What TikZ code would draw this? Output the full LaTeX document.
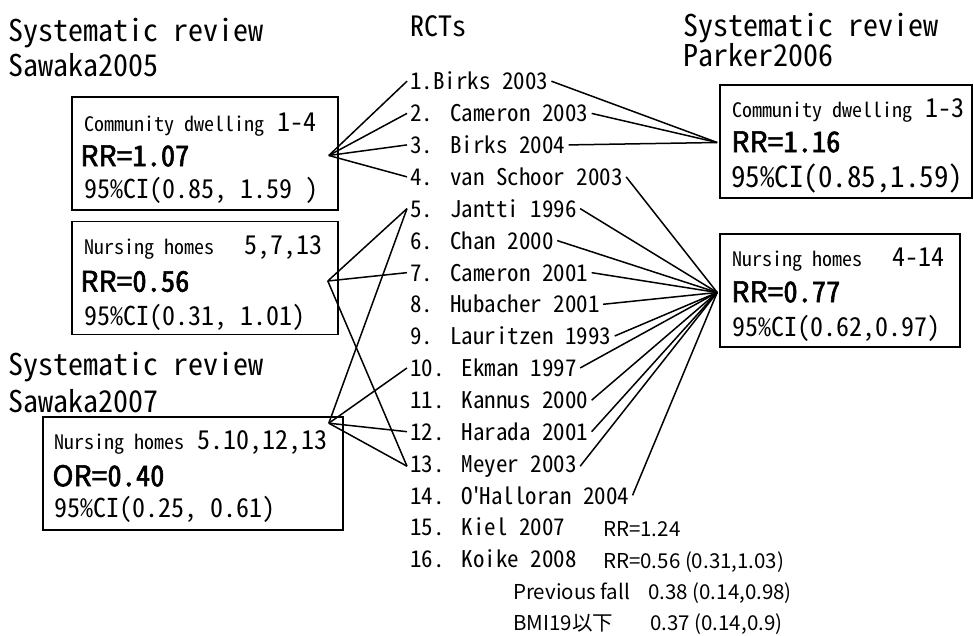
\documentclass[tikz,border=0pt]{standalone}
\usepackage{fontspec}
\newfontfamily\gothic[RawFeature=+hwid]{Noto Sans CJK JP}
\newfontfamily\rrfont[RawFeature=+hwid, FakeBold=2]{Noto Sans CJK JP}
\newfontfamily\pgothic{Noto Sans CJK JP}
\newfontfamily\prrfont[FakeBold=2]{Noto Sans CJK JP}
\newcommand\rgap{\hspace{0.75em}}
\newcommand\sm{\fontsize{20}{20}\selectfont}

\begin{document}
\begin{tikzpicture}[x=1pt,y=-1pt,
  box/.style={draw, line width=1.6pt, minimum width=#1, minimum height=113pt, inner sep=0pt},
  title/.style={anchor=base west, inner sep=0pt, font=\gothic\fontsize{30}{30}\selectfont},
  rct/.style={anchor=base west, inner sep=3pt, font=\gothic\fontsize{23}{23}\selectfont},
  head/.style={anchor=base west, inner sep=0pt, font=\gothic\fontsize{26}{26}\selectfont},
  rr/.style={anchor=base west, inner sep=0pt, font=\rrfont\fontsize{28.5}{28.5}\selectfont},
  ci/.style={anchor=base west, inner sep=0pt, font=\gothic\fontsize{26}{26}\selectfont},
  note/.style={anchor=base west, inner sep=0pt, font=\pgothic\fontsize{20.5}{20.5}\selectfont},
  link/.style={line width=1.5pt}]
  \useasboundingbox (0,0) rectangle (974,636);

  % Titles
  \node[title] (sw05t1) at (8,42) {Systematic review};
  \node[title] (sw05t2) at (8,77) {Sawaka2005};
  \node[title] (pk06t1) at (683,37) {Systematic review};
  \node[title] (pk06t2) at (683,67) {Parker2006};
  \node[title] (sw07t1) at (8,375) {Systematic review};
  \node[title] (sw07t2) at (8,412) {Sawaka2007};
  \node[title, font=\gothic\fontsize{28}{28}\selectfont] (rcts) at (410,37) {RCTs};

  % Boxes
  \node[box=266pt] (sw05a) at (205,153.5) {};
  \node[box=266pt] (sw05b) at (205,278) {};
  \node[box=300pt] (sw07) at (193,473.5) {};
  \node[box=252pt] (pk06a) at (846,141.5) {};
  \node[box=240pt] (pk06b) at (840,290.5) {};

  % Box texts
  \node[head] (sw05a1) at ([xshift=13pt,yshift=-35pt]sw05a.north west) {\makebox[232pt][l]{{\sm Community dwelling} 1-4}};
  \node[rr] (sw05a2) at ([xshift=9pt,yshift=-70pt]sw05a.north west) {{\prrfont RR=}1.07};
  \node[ci] (sw05a3) at ([xshift=13pt,yshift=-102pt]sw05a.north west) {95\%CI(0.85, 1.59 )};
  \node[head] (sw05b1) at ([xshift=13pt,yshift=-34pt]sw05b.north west) {\makebox[238pt][l]{{\sm Nursing homes}\hfill 5,7,13}};
  \node[rr] (sw05b2) at ([xshift=9pt,yshift=-71pt]sw05b.north west) {{\prrfont RR=}0.56};
  \node[ci] (sw05b3) at ([xshift=13pt,yshift=-105pt]sw05b.north west) {95\%CI(0.31, 1.01)};
  \node[head] (sw071) at ([xshift=12pt,yshift=-33pt]sw07.north west) {\makebox[273pt][l]{{\sm Nursing homes}\hfill 5.10,12,13}};
  \node[rr] (sw072) at ([xshift=10pt,yshift=-70pt]sw07.north west) {{\prrfont OR=}0.40};
  \node[ci] (sw073) at ([xshift=12pt,yshift=-101pt]sw07.north west) {95\%CI(0.25, 0.61)};
  \node[head] (pk06a1) at ([xshift=13pt,yshift=-33pt]pk06a.north west) {\makebox[232pt][l]{{\sm Community dwelling}\hfill 1-3}};
  \node[rr] (pk06a2) at ([xshift=12pt,yshift=-68pt]pk06a.north west) {{\prrfont RR=}1.16};
  \node[ci, font=\gothic\fontsize{29}{29}\selectfont] (pk06a3) at ([xshift=12pt,yshift=-103pt]pk06a.north west) {95\%CI(0.85,1.59)};
  \node[head] (pk06b1) at ([xshift=13pt,yshift=-33pt]pk06b.north west) {\makebox[212pt][l]{{\sm Nursing homes}\hfill 4-14}};
  \node[rr] (pk06b2) at ([xshift=12pt,yshift=-69pt]pk06b.north west) {{\prrfont RR=}0.77};
  \node[ci] (pk06b3) at ([xshift=13pt,yshift=-103pt]pk06b.north west) {95\%CI(0.62,0.97)};

  % RCT list
  \foreach \i/\t in {1/{1.Birks 2003}, 2/{2.\rgap Cameron 2003}, 3/{3.\rgap Birks 2004},
      4/{4.\rgap van Schoor 2003}, 5/{5.\rgap Jantti 1996}, 6/{6.\rgap Chan 2000},
      7/{7.\rgap Cameron 2001}, 8/{8.\rgap Hubacher 2001}, 9/{9.\rgap Lauritzen 1993},
      10/{10.\rgap Ekman 1997}, 11/{11.\rgap Kannus 2000}, 12/{12.\rgap Harada 2001},
      13/{13.\rgap Meyer 2003}, 14/{14.\rgap O\textquotesingle Halloran 2004},
      15/{15.\rgap Kiel 2007}, 16/{16.\rgap Koike 2008}}
    \node[rct] (r\i) at (407,{90+(\i-1)*31.85}) {\t};

  % Results of 15 and 16
  \node[note] (k15rr) at (603,536) {RR=1.24};
  \node[note] (k16rr) at (603,568) {RR=0.56 (0.31,1.03)};
  \node[note] (k16pf) at (513,599) {\makebox[135pt][l]{Previous fall}0.38 (0.14,0.98)};
  \node[note] (k16bmi) at (513,630) {\makebox[137pt][l]{BMI19以下}0.37 (0.14,0.9)};

  % Hubs
  \coordinate (h05a) at ([xshift=-10pt,yshift=-2pt]sw05a.east);
  \coordinate (h05b) at ([xshift=-11pt,yshift=-3pt]sw05b.east);
  \coordinate (h07) at ([xshift=-15pt,yshift=-7pt]sw07.north east);
  \coordinate (h06a) at ([xshift=-2pt,yshift=-1pt]pk06a.west);
  \coordinate (h06b) at ([xshift=-2pt,yshift=-2pt]pk06b.west);

  % Links
  \foreach \i in {1,...,4} \draw[link] (h05a) -- (r\i.west);
  \foreach \i in {5,7,13} \draw[link] (h05b) -- (r\i.west);
  \foreach \i in {5,10,12,13} \draw[link] (h07) -- (r\i.west);
  \foreach \i in {1,...,3} \draw[link] (r\i.east) -- (h06a);
  \foreach \i in {4,...,14} \draw[link] (r\i.east) -- (h06b);
\end{tikzpicture}
\end{document}
